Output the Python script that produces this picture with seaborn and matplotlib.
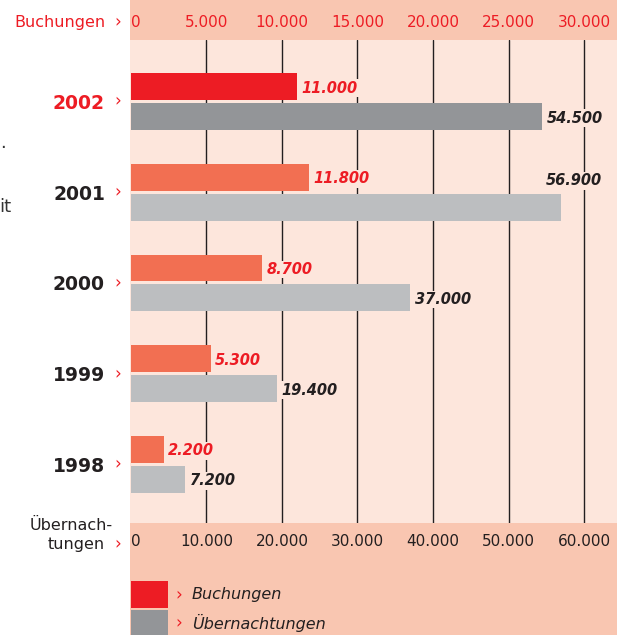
import matplotlib
matplotlib.use('Agg')
import matplotlib.pyplot as plt
import matplotlib.transforms as mtransforms
from matplotlib.patches import Rectangle
import pandas as pd
import seaborn as sns

# data
years = ['2002', '2001', '2000', '1999', '1998']
buchungen = [11000, 11800, 8700, 5300, 2200]
uebernachtungen = [54500, 56900, 37000, 19400, 7200]
highlight = '2002'
series = ['Buchungen', 'Übernachtungen']
buch_ticks = [0, 5000, 10000, 15000, 20000, 25000, 30000]
ueb_ticks = [0, 10000, 20000, 30000, 40000, 50000, 60000]

RED = '#ED1C24'
SALMON = '#F26F52'
GRAY_DARK = '#939598'
GRAY_LIGHT = '#BCBEC0'
INK = '#231F20'
BG = '#FDE6DC'
BAND = '#F9C6B1'

W, H = 617, 635


def fx(x):
    return x / W


def fy(y):
    return 1 - y / H


def fmt(v):
    return f'{v:,}'.replace(',', '.')


df = pd.DataFrame({
    'Jahr': years * 2,
    'Reihe': ['Buchungen'] * len(years) + ['Übernachtungen'] * len(years),
    'Wert': buchungen + uebernachtungen,
})
buch = dict(zip(years, buchungen))
ueb = dict(zip(years, uebernachtungen))

sns.set_style('white')
plt.rcParams['font.family'] = ['DejaVu Sans']

fig = plt.figure(figsize=(W / 100, H / 100), dpi=100)

# bands behind the axes
fig.patches.append(Rectangle((fx(130), fy(40)), 1 - fx(130), 40 / H, zorder=-5,
                             transform=fig.transFigure, fc=BAND, ec='none'))
fig.patches.append(Rectangle((fx(130), 0), 1 - fx(130), fy(523), zorder=-5,
                             transform=fig.transFigure, fc=BAND, ec='none'))

ax = fig.add_axes([fx(130), fy(523), fx(617) - fx(130), fy(40) - fy(523)])
ax.set_facecolor(BG)
ax2 = ax.twiny()

pal = {'Buchungen': SALMON, 'Übernachtungen': GRAY_LIGHT}
bar_kw = dict(y='Jahr', x='Wert', hue='Reihe', hue_order=series, order=years,
              orient='y', width=0.661, gap=0.1, dodge=True, errorbar=None,
              legend=False, saturation=1, palette=pal, linewidth=0)
sns.barplot(data=df[df['Reihe'] == 'Übernachtungen'], ax=ax, **bar_kw)
sns.barplot(data=df[df['Reihe'] == 'Buchungen'], ax=ax2, **bar_kw)

ax.set_xlim(-130, 64370)
ax2.set_xlim(-65, 32185)
ax.set_ylim(4.645, -0.678)

lab_kw = dict(textcoords='offset points', fontsize=10.5, fontweight='bold',
              fontstyle='italic',
              bbox=dict(boxstyle='square,pad=0.1', fc=BG, ec='none'))

for p in ax2.patches:
    yc = p.get_y() + p.get_height() / 2
    yr = years[int(round(yc))]
    if yr == highlight:
        p.set_facecolor(RED)
    ax2.annotate(fmt(buch[yr]), (p.get_width(), yc), xytext=(3, 0),
                 ha='left', va='center_baseline', color=RED, **lab_kw)

for p in ax.patches:
    yc = p.get_y() + p.get_height() / 2
    yr = years[int(round(yc))]
    if yr == highlight:
        p.set_facecolor(GRAY_DARK)
    if ueb[yr] > 0.85 * ax.get_xlim()[1]:
        ax.annotate(fmt(ueb[yr]), (p.get_width(), p.get_y()), xytext=(-11, 4),
                    ha='left', va='bottom', color=INK, **lab_kw)
    else:
        ax.annotate(fmt(ueb[yr]), (p.get_width(), yc), xytext=(3, 0),
                    ha='left', va='center_baseline', color=INK, **lab_kw)

# grid lines (not at 0)
ax.xaxis.remove_overlapping_locs = False
ax.set_xticks(ueb_ticks[1:], minor=True)
ax.grid(False)
ax.xaxis.grid(True, which='minor', color=INK, linewidth=1.0)
ax.set_axisbelow(True)
ax2.grid(False)

# axes ticks
ax.set_xticks(ueb_ticks, labels=[fmt(t) for t in ueb_ticks])
ax.tick_params(axis='x', which='both', length=0, pad=8, labelsize=11, labelcolor=INK)
ax2.set_xticks(buch_ticks, labels=[fmt(t) for t in buch_ticks])
ax2.tick_params(axis='x', length=0, pad=7, labelsize=11, labelcolor=RED)
ax.get_xticklabels()[0].set_ha('left')
ax2.get_xticklabels()[0].set_ha('left')

ax.set_yticks(range(len(years)), labels=years)
ax.tick_params(axis='y', length=0, pad=18, labelsize=13.5)
for t, yr in zip(ax.get_yticklabels(), years):
    t.set_fontweight('bold')
    t.set_color(RED if yr == highlight else INK)

ax.set_xlabel('')
ax.set_ylabel('')
ax2.set_xlabel('')
for a in (ax, ax2):
    for s in a.spines.values():
        s.set_visible(False)

# arrows next to years
blend = mtransforms.blended_transform_factory(fig.transFigure, ax.transData)
for i in range(len(years)):
    fig.text(fx(118), i, '›', transform=blend, ha='center', va='center',
             color=RED, fontsize=12)

# axis captions
fig.text(fx(106), fy(22), 'Buchungen', ha='right', va='center', color=RED, fontsize=11.5)
fig.text(fx(118), fy(22), '›', ha='center', va='center', color=RED, fontsize=12)
fig.text(fx(113), fy(525), 'Übernach-', ha='right', va='center', color=INK, fontsize=11.5)
fig.text(fx(105), fy(544), 'tungen', ha='right', va='center', color=INK, fontsize=11.5)
fig.text(fx(118), fy(544), '›', ha='center', va='center', color=RED, fontsize=12)

# legend
fig.patches.append(Rectangle((fx(131), fy(608)), 37 / W, 27 / H,
                             transform=fig.transFigure, fc=RED, ec='none'))
fig.patches.append(Rectangle((fx(131), fy(635)), 37 / W, 25 / H,
                             transform=fig.transFigure, fc=GRAY_DARK, ec='none'))
for yy, name in zip([595, 623], series):
    fig.text(fx(179), fy(yy), '›', ha='center', va='center', color=RED, fontsize=12)
    fig.text(fx(192), fy(yy), name, ha='left', va='center', color=INK,
             fontsize=11.5, fontstyle='italic')

# cut-off text from the neighbouring column
fig.text(fx(0), fy(148), '.', ha='left', va='baseline', color='#333333', fontsize=13)
fig.text(fx(-1), fy(207), 'it', ha='left', va='center', color='#333333', fontsize=13)

fig.savefig('out.png', dpi=100)
plt.close(fig)
